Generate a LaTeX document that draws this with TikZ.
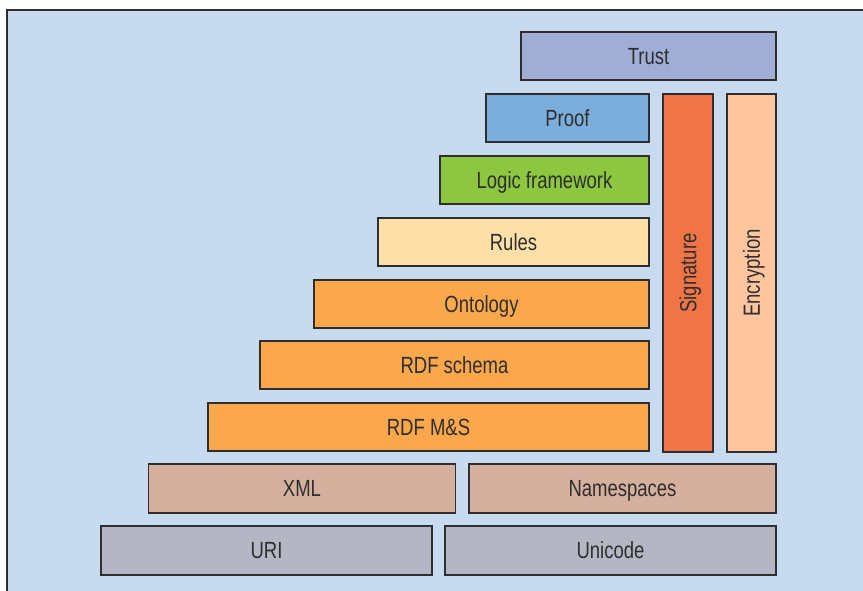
\documentclass[tikz,border=0pt]{standalone}
\usepackage{fontspec}
\setmainfont{Liberation Sans}[FakeStretch=0.79]
\usepackage{tikz}
\definecolor{panel}{HTML}{C8DAEF}
\definecolor{edge}{HTML}{2E2E2E}
\definecolor{trustc}{HTML}{A0AED6}
\definecolor{proofc}{HTML}{7BAEDA}
\definecolor{logicc}{HTML}{8DC63F}
\definecolor{rulesc}{HTML}{FDE0A8}
\definecolor{rdfc}{HTML}{FBA74B}
\definecolor{signc}{HTML}{F07546}
\definecolor{cryptc}{HTML}{FEC59F}
\definecolor{xmlc}{HTML}{D5B09E}
\definecolor{uric}{HTML}{B4B7C3}
\tikzset{layer/.style={draw=edge, line width=1.4bp, inner sep=0pt, text=edge,
  font=\fontsize{23.5}{27}\selectfont, text height=16.8bp, text depth=0pt,
  minimum height=48bp}}

\begin{document}
\begin{tikzpicture}[x=1bp, y=-1bp]
\useasboundingbox (0,0) rectangle (863,591);
\fill[panel] (7,10) rectangle (863,591);
\draw[edge, line width=2bp] (7,591) -- (7,10) -- (863,10);

\node[layer, fill=trustc, minimum width=255bp] (trust) at (648.5,56) {Trust};
\node[layer, fill=proofc, minimum width=163bp] (proof) at (567.5,118) {Proof};
\node[layer, fill=logicc, minimum width=209bp] (logic) at (544.5,180) {Logic framework};
\node[layer, fill=rulesc, minimum width=271bp] (rules) at (513.5,242) {Rules};
\node[layer, fill=rdfc, minimum width=335bp] (onto) at (481.5,304) {Ontology};
\node[layer, fill=rdfc, minimum width=389bp] (schema) at (454.5,365) {RDF schema};
\node[layer, fill=rdfc, minimum width=441bp] (rdfms) at (428.5,427) {RDF M\&S};
\node[layer, fill=signc, rotate=90, minimum width=358bp, minimum height=50bp] (sign) at (688,273) {Signature};
\node[layer, fill=cryptc, rotate=90, minimum width=358bp, minimum height=49bp] (crypt) at (751.5,273) {Encryption};
\node[layer, fill=xmlc, minimum width=307bp, minimum height=49bp] (xml) at (302,488.5) {XML};
\node[layer, fill=xmlc, minimum width=307bp, minimum height=49bp] (ns) at (622.5,488.5) {Namespaces};
\node[layer, fill=uric, minimum width=331bp, minimum height=49bp] (uri) at (266.5,550.5) {URI};
\node[layer, fill=uric, minimum width=331bp, minimum height=49bp] (unicode) at (610.5,550.5) {Unicode};
\end{tikzpicture}
\end{document}
